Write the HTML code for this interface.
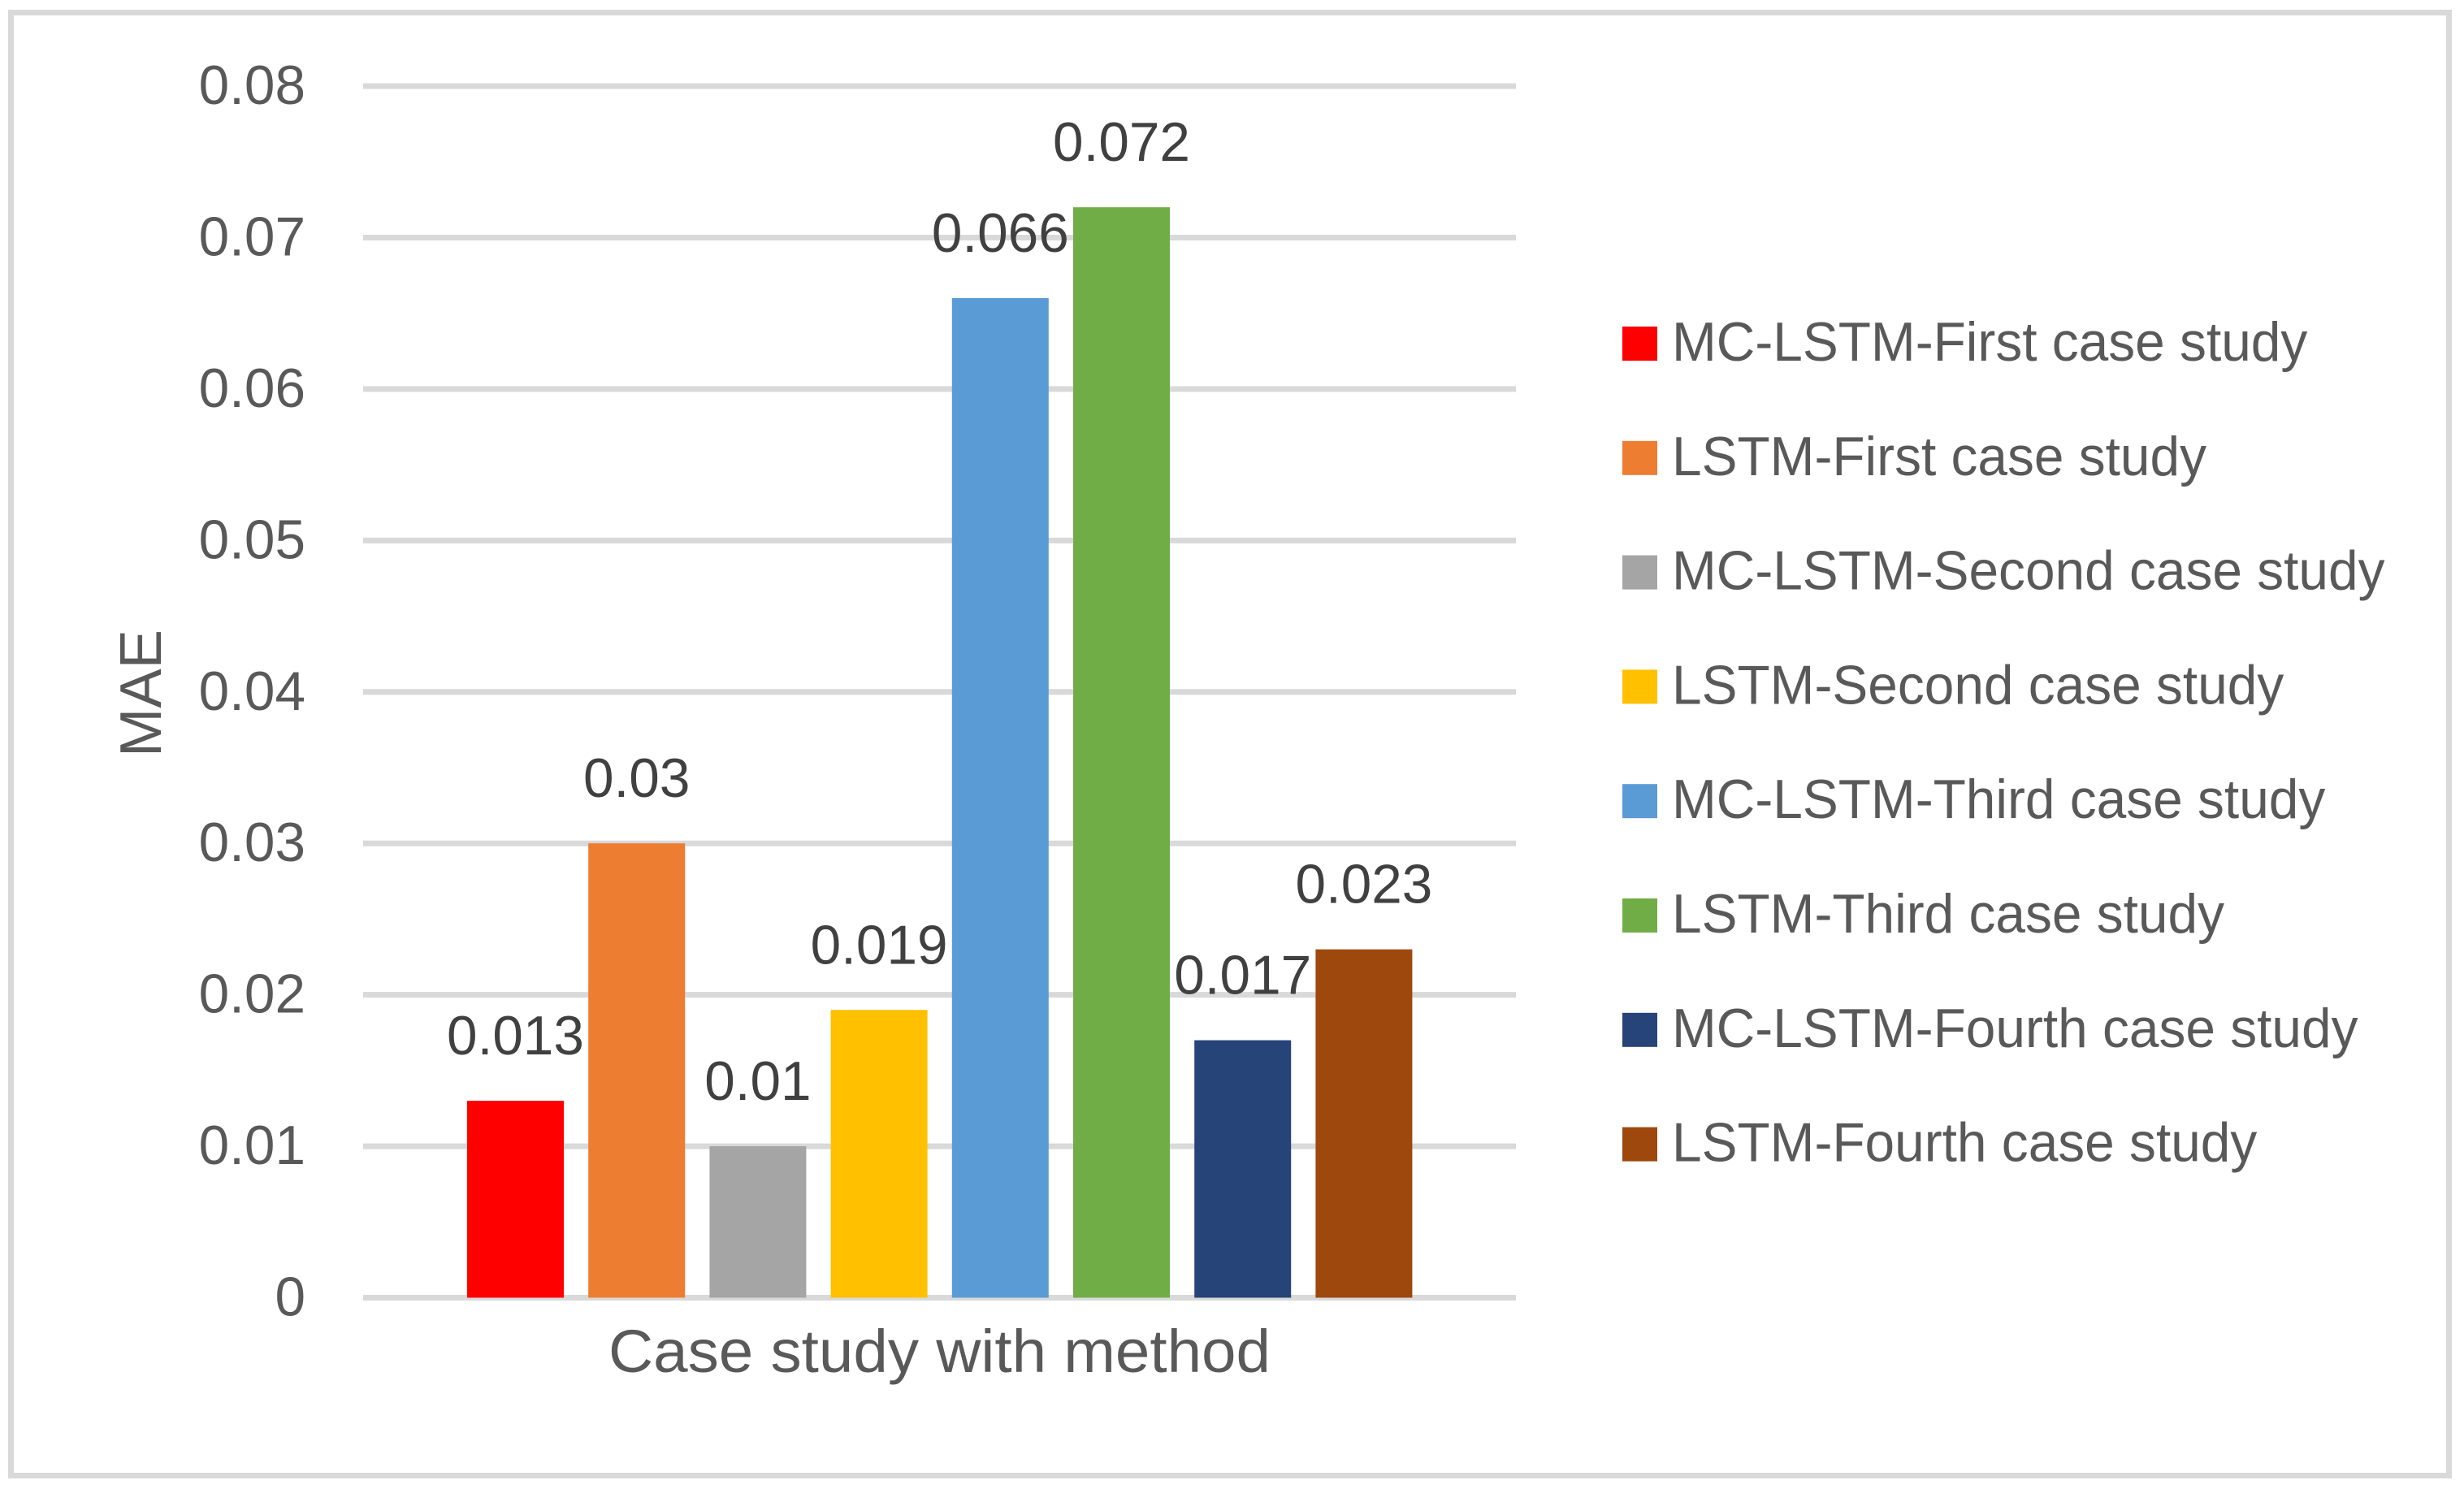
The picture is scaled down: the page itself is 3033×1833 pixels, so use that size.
<!DOCTYPE html>
<html lang="en">
<head>
<meta charset="utf-8">
<title>MAE by case study and method</title>
<style>
  html, body { margin: 0; padding: 0; background: #ffffff; }
  body { width: 3033px; height: 1833px; overflow: hidden; }
  svg { display: block; font-family: "Liberation Sans", sans-serif; }
</style>
</head>
<body>
<svg id="chart" xmlns="http://www.w3.org/2000/svg" width="3033" height="1833" viewBox="0 0 3033 1833">
  <rect x="13.5" y="15.5" width="3001" height="1801" fill="#ffffff" stroke="#d9d9d9" stroke-width="7"/>
  <g id="grid"></g>
  <g id="yticks"></g>
  <g id="bars"></g>
  <g id="labels"></g>
  <g id="legend"></g>
  <text x="749" y="1689" font-size="74" fill="#595959" textLength="815" lengthAdjust="spacingAndGlyphs">Case study with method</text>
  <text transform="translate(198 932) rotate(-90)" font-size="72" fill="#595959" textLength="157" lengthAdjust="spacingAndGlyphs">MAE</text>
</svg>
<script>
const seriesNames = [
  'MC-LSTM-First case study',
  'LSTM-First case study',
  'MC-LSTM-Second case study',
  'LSTM-Second case study',
  'MC-LSTM-Third case study',
  'LSTM-Third case study',
  'MC-LSTM-Fourth case study',
  'LSTM-Fourth case study'
];
const seriesValues = [0.013, 0.03, 0.01, 0.019, 0.066, 0.072, 0.017, 0.023];
const seriesColors = ['#ff0000', '#ed7d31', '#a5a5a5', '#ffc000', '#5b9bd5', '#70ad47', '#264478', '#9e480e'];
const tickValues = [0, 0.01, 0.02, 0.03, 0.04, 0.05, 0.06, 0.07, 0.08];
const tickLabels = ['0', '0.01', '0.02', '0.03', '0.04', '0.05', '0.06', '0.07', '0.08'];

const SVG_NS = 'http://www.w3.org/2000/svg';
const plotLeft = 447, plotRight = 1866, y0 = 1597.5, yTop = 106, yMax = 0.08;
const barStart = 575, barPitch = 149.2, barWidth = 119;
const legendSwatchX = 1997, legendTextX = 2058, legendFirstBaseline = 444, legendPitch = 140.8;

function yScale(v) { return y0 - (v / yMax) * (y0 - yTop); }
function xScale(i) { return barStart + i * barPitch; }
function make(tag, attrs, text) {
  const el = document.createElementNS(SVG_NS, tag);
  for (const k in attrs) el.setAttribute(k, attrs[k]);
  if (text !== undefined) el.textContent = text;
  return el;
}
function legendWidth(name) {
  const probe = make('text', { 'font-size': 68, x: 0, y: -500 }, name);
  document.getElementById('chart').appendChild(probe);
  const w = probe.getComputedTextLength();
  probe.remove();
  return w * 0.9675;
}

const gridG = document.getElementById('grid');
const tickG = document.getElementById('yticks');
tickValues.forEach(function (v, i) {
  const line = make('line', { x1: plotLeft, x2: plotRight, y1: yScale(v), y2: yScale(v), stroke: '#d9d9d9', 'stroke-width': 7 });
  
  
  gridG.appendChild(line);
  const t = make('text', { x: 376, y: yScale(v) + 22, 'text-anchor': 'end', 'font-size': 67.5, fill: '#595959' }, tickLabels[i]);
  
  
  tickG.appendChild(t);
});

const barG = document.getElementById('bars');
const labelG = document.getElementById('labels');
const legendG = document.getElementById('legend');
seriesValues.forEach(function (v, i) {
  const top = yScale(v);
  const bar = make('rect', { x: xScale(i), y: top, width: barWidth, height: y0 - top, fill: seriesColors[i] });
  
  
  barG.appendChild(bar);

  const label = make('text', { x: xScale(i) + barWidth / 2, y: top - 57, 'text-anchor': 'middle', 'font-size': 67.5, fill: '#404040' }, String(v));
  
  
  labelG.appendChild(label);

  const rowY = legendFirstBaseline + i * legendPitch;
  const swatch = make('rect', { x: legendSwatchX, y: rowY - 42, width: 43, height: 42, fill: seriesColors[i] });
  
  
  legendG.appendChild(swatch);

  const entry = make('text', { x: legendTextX, y: rowY, 'font-size': 68, fill: '#595959', textLength: legendWidth(seriesNames[i]).toFixed(1), lengthAdjust: 'spacingAndGlyphs' }, seriesNames[i]);
  
  
  legendG.appendChild(entry);
});
</script>
</body>
</html>
